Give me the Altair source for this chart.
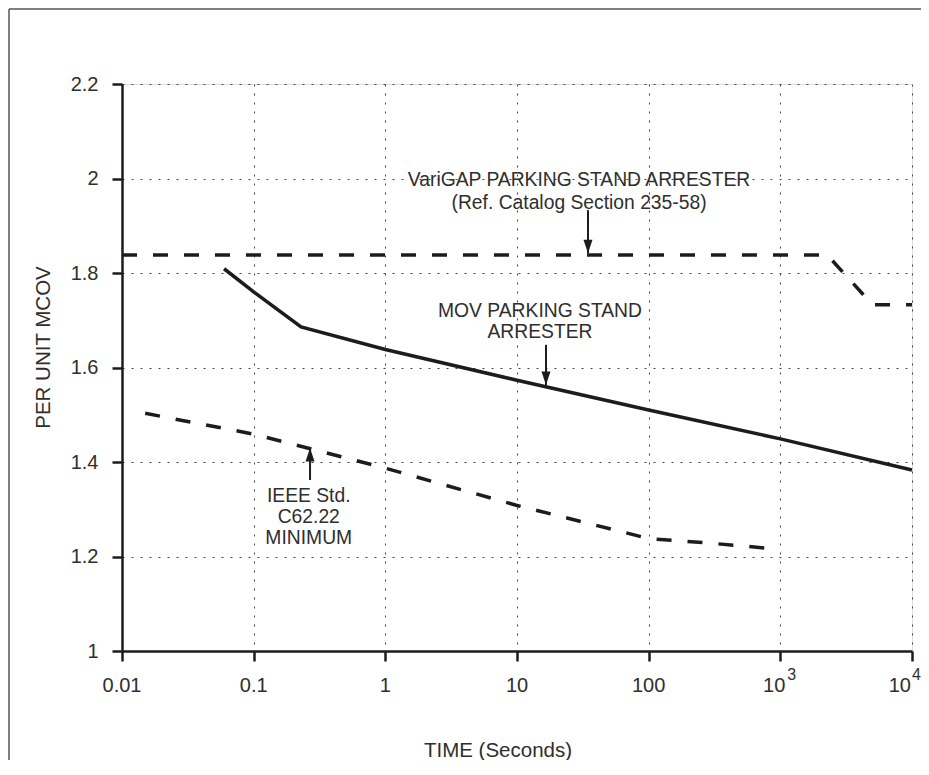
import altair as alt
import pandas as pd

# ---- series (time in seconds, per-unit MCOV) ----
varigap_time = [0.01, 2275, 5000, 10000]
varigap_mcov = [1.838, 1.838, 1.733, 1.733]
mov_time = [0.0596, 0.1, 0.229, 1, 10, 100, 1000, 10000]
mov_mcov = [1.809, 1.760, 1.686, 1.638, 1.573, 1.510, 1.449, 1.383]
ieee_time = [0.015, 0.1, 1, 10, 100, 300, 764]
ieee_mcov = [1.503, 1.459, 1.387, 1.308, 1.238, 1.228, 1.218]

# ---- axes ----
x_tick_values = [0.01, 0.1, 1, 10, 100, 1000, 10000]
x_tick_text = ["0.01", "0.1", "1", "10", "100", "10", "10"]
x_tick_exp = ["", "", "", "", "", "3", "4"]
y_tick_values = [1.0, 1.2, 1.4, 1.6, 1.8, 2.0, 2.2]

# ---- annotations ----
note_text = ["VariGAP PARKING STAND ARRESTER", "(Ref. Catalog Section 235-58)",
             "MOV PARKING STAND", "ARRESTER",
             "IEEE Std.", "C62.22", "MINIMUM"]
note_time = [29.6, 29.6, 14.95, 14.95, 0.262, 0.262, 0.262]
note_mcov = [1.9841, 1.9365, 1.707, 1.6624, 1.3153, 1.2709, 1.2265]

arrow_time = [34.6, 16.6, 0.268]
arrow_tail = [1.933, 1.648, 1.362]
arrow_tip = [1.842, 1.563, 1.4296]
arrow_dir = ["down", "down", "up"]

FONT = "Liberation Sans"
INK = "#1c1c1c"
TXT = "#2e2e2e"

xs = alt.Scale(type="log", domain=[0.01, 10000])
ys = alt.Scale(domain=[1.0, 2.2])

x_axis = alt.Axis(values=x_tick_values, labels=False, grid=True, gridDash=[2, 7],
                  gridColor="#444", gridWidth=1, tickSize=10, tickWidth=2.5,
                  tickColor=INK, domainColor=INK, domainWidth=2.5,
                  title="TIME (Seconds)", titleFont=FONT, titleFontSize=20.5,
                  titleFontWeight="normal", titleColor=TXT, titleX=375.5, titleY=105,
                  titleBaseline="alphabetic", titleAlign="center")
y_axis = alt.Axis(values=y_tick_values, format=".1~f", grid=True, gridDash=[2, 7],
                  gridColor="#444", gridWidth=1, tickSize=10, tickWidth=2.5,
                  tickColor=INK, domainColor=INK, domainWidth=2.5,
                  labelFont=FONT, labelFontSize=20, labelColor=TXT, labelPadding=14,
                  title="PER UNIT MCOV", titleFont=FONT, titleFontSize=20.5,
                  titleFontWeight="normal", titleColor=TXT, titleAngle=270,
                  titleX=-79, titleY=263, titleAlign="center", titleBaseline="middle")

varigap_df = pd.DataFrame({"t": varigap_time, "v": varigap_mcov})
mov_df = pd.DataFrame({"t": mov_time, "v": mov_mcov})
ieee_df = pd.DataFrame({"t": ieee_time, "v": ieee_mcov})

X = alt.X("t:Q", scale=xs, axis=x_axis)
Y = alt.Y("v:Q", scale=ys, axis=y_axis)

base_line = dict(color=INK, strokeWidth=3.5, strokeCap="butt")
varigap = alt.Chart(varigap_df).mark_line(strokeDash=[15, 16], **base_line).encode(x=X, y=Y)
mov = alt.Chart(mov_df).mark_line(**base_line).encode(x=X, y=Y)
ieee = alt.Chart(ieee_df).mark_line(strokeDash=[15, 16], **base_line).encode(x=X, y=Y)

notes_df = pd.DataFrame({"t": note_time, "v": note_mcov, "txt": note_text})
notes = alt.Chart(notes_df).mark_text(font=FONT, fontSize=19.3, color=TXT, align="center",
                                      baseline="alphabetic").encode(
    x=alt.X("t:Q", scale=xs), y=alt.Y("v:Q", scale=ys), text="txt:N")

arr_df = pd.DataFrame({"t": arrow_time, "y1": arrow_tail, "y2": arrow_tip, "d": arrow_dir})
arrow_shafts = alt.Chart(arr_df).mark_rule(color=INK, strokeWidth=2).encode(
    x=alt.X("t:Q", scale=xs), y=alt.Y("y1:Q", scale=ys), y2="y2:Q")
heads_down = alt.Chart(arr_df).transform_filter(alt.datum.d == "down").mark_point(
    shape="M0,0L-0.5,-1.5L0.5,-1.5Z", filled=True, color=INK, opacity=1, size=324).encode(
    x=alt.X("t:Q", scale=xs), y=alt.Y("y2:Q", scale=ys))
heads_up = alt.Chart(arr_df).transform_filter(alt.datum.d == "up").mark_point(
    shape="M0,0L-0.5,1.5L0.5,1.5Z", filled=True, color=INK, opacity=1, size=324).encode(
    x=alt.X("t:Q", scale=xs), y=alt.Y("y2:Q", scale=ys))

ticks_df = pd.DataFrame({"t": x_tick_values, "lab": x_tick_text, "ex": x_tick_exp})
plain_labels = alt.Chart(ticks_df).transform_filter(alt.datum.ex == "").mark_text(
    font=FONT, fontSize=20, color=TXT, align="center", baseline="alphabetic").encode(
    x=alt.X("t:Q", scale=xs), y=alt.value(608), text="lab:N")
pow3_base = alt.Chart(ticks_df).transform_filter(alt.datum.ex == "3").mark_text(
    font=FONT, fontSize=20, color=TXT, align="right", baseline="alphabetic", dx=5).encode(
    x=alt.X("t:Q", scale=xs), y=alt.value(608), text="lab:N")
pow3_exp = alt.Chart(ticks_df).transform_filter(alt.datum.ex == "3").mark_text(
    font=FONT, fontSize=16, color=TXT, align="left", baseline="alphabetic", dx=7).encode(
    x=alt.X("t:Q", scale=xs), y=alt.value(596), text="ex:N")
pow4_base = alt.Chart(ticks_df).transform_filter(alt.datum.ex == "4").mark_text(
    font=FONT, fontSize=20, color=TXT, align="right", baseline="alphabetic", dx=-1).encode(
    x=alt.X("t:Q", scale=xs), y=alt.value(608), text="lab:N")
pow4_exp = alt.Chart(ticks_df).transform_filter(alt.datum.ex == "4").mark_text(
    font=FONT, fontSize=16, color=TXT, align="left", baseline="alphabetic", dx=0).encode(
    x=alt.X("t:Q", scale=xs), y=alt.value(596), text="ex:N")

one = pd.DataFrame({"k": [0]})
frame_left = alt.Chart(one).mark_rule(color="#555", strokeWidth=1.5).encode(
    x=alt.value(-113), y=alt.value(-75), y2=alt.value(680))
frame_top = alt.Chart(one).mark_rule(color="#555", strokeWidth=1.5).encode(
    x=alt.value(-113), x2=alt.value(800), y=alt.value(-75))

chart = alt.layer(
    frame_left, frame_top, varigap, mov, ieee, arrow_shafts, heads_down, heads_up, notes,
    plain_labels, pow3_base, pow3_exp, pow4_base, pow4_exp
).properties(
    width=790, height=567,
    autosize=alt.AutoSizeParams(type="none"),
    padding={"left": 114, "top": 76, "right": 9, "bottom": 109},
).configure_view(stroke=INK, strokeWidth=2.5).configure(background="white")

chart.save("out.html", embed_options={"renderer": "svg", "actions": False})
